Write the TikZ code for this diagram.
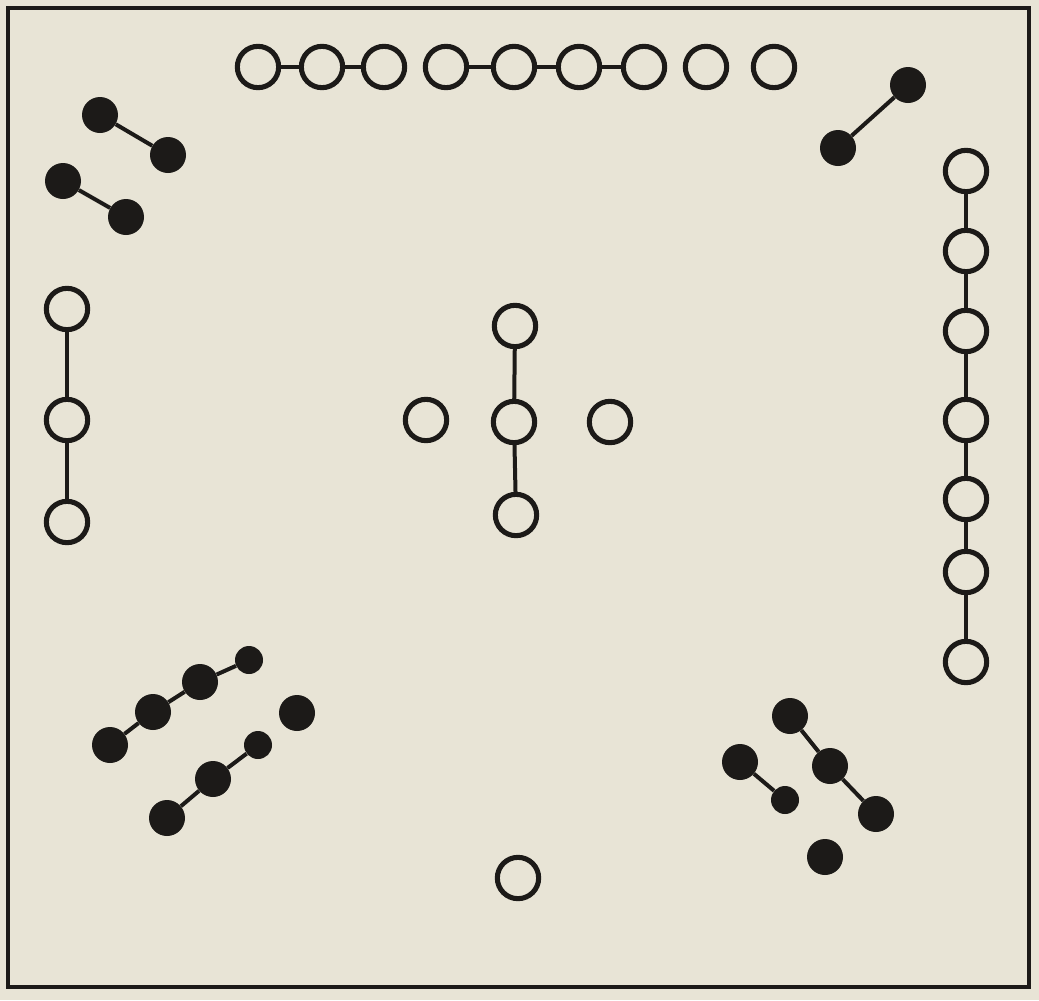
\documentclass[tikz,border=0pt]{standalone}
\usepackage{xcolor}
\definecolor{paper}{RGB}{232,228,214}
\definecolor{ink}{RGB}{28,26,24}
\begin{document}
\begin{tikzpicture}[x=0.75pt,y=-0.75pt,
  wdots/.style={circle,draw=ink,line width=3.8pt,fill=paper,minimum size=31pt,inner sep=0pt},
  bdot/.style={circle,fill=ink,minimum size=27pt,inner sep=0pt},
  bsmall/.style={circle,fill=ink,minimum size=21pt,inner sep=0pt},
  link/.style={draw=ink,line width=3pt},
  frame/.style={draw=ink,line width=3pt}]
\fill[paper] (0,0) rectangle (1039,1000);
\useasboundingbox (0,0) rectangle (1039,1000);
\draw[frame] (8,8) rectangle (1029,987);
% top row (9)
\foreach \i/\x in {1/258,2/322,3/384,4/446,5/514,6/579,7/644,8/706,9/774}
  \node[wdots] (t\i) at (\x,67) {};
\foreach \a/\b in {1/2,2/3,4/5,5/6,6/7} \draw[link] (t\a) -- (t\b);
% top left (4)
\node[bdot] (a1) at (100,115) {};
\node[bdot] (a2) at (168,155) {};
\node[bdot] (a3) at (63,181) {};
\node[bdot] (a4) at (126,217) {};
\draw[link] (a1) -- (a2);
\draw[link] (a3) -- (a4);
% top right (2)
\node[bdot] (b1) at (908,85) {};
\node[bdot] (b2) at (838,148) {};
\draw[link] (b1) -- (b2);
% right column (7)
\foreach \i/\y in {1/171,2/251,3/331,4/420,5/499,6/572,7/662}
  \node[wdots] (r\i) at (966,\y) {};
\foreach \a/\b in {1/2,2/3,3/4,4/5,5/6,6/7} \draw[link] (r\a) -- (r\b);
% left column (3)
\node[wdots] (l1) at (67,309) {};
\node[wdots] (l2) at (67,420) {};
\node[wdots] (l3) at (67,522) {};
\draw[link] (l1) -- (l2);
\draw[link] (l2) -- (l3);
% centre (5)
\node[wdots] (c0) at (514,422) {};
\node[wdots] (cn) at (515,326) {};
\node[wdots] (cs) at (516,515) {};
\node[wdots] (cw) at (426,420) {};
\node[wdots] (ce) at (610,422) {};
\draw[link] (cn) -- (c0);
\draw[link] (c0) -- (cs);
% bottom left (8)
\node[bdot] (d1) at (110,745) {};
\node[bdot] (d2) at (153,712) {};
\node[bdot] (d3) at (200,682) {};
\node[bsmall] (d4) at (249,660) {};
\node[bdot] (e1) at (167,818) {};
\node[bdot] (e2) at (213,779) {};
\node[bsmall] (e3) at (258,745) {};
\node[bdot] (e4) at (297,713) {};
\draw[link] (d1) -- (d2);
\draw[link] (d2) -- (d3);
\draw[link] (d3) -- (d4);
\draw[link] (e1) -- (e2);
\draw[link] (e2) -- (e3);
% bottom right (6)
\node[bdot] (f1) at (790,716) {};
\node[bdot] (f2) at (830,766) {};
\node[bdot] (f3) at (876,814) {};
\node[bdot] (f4) at (740,762) {};
\node[bsmall] (f5) at (785,800) {};
\node[bdot] (f6) at (825,857) {};
\draw[link] (f1) -- (f2);
\draw[link] (f2) -- (f3);
\draw[link] (f4) -- (f5);
% bottom (1)
\node[wdots] (s1) at (518,878) {};
\end{tikzpicture}
\end{document}
